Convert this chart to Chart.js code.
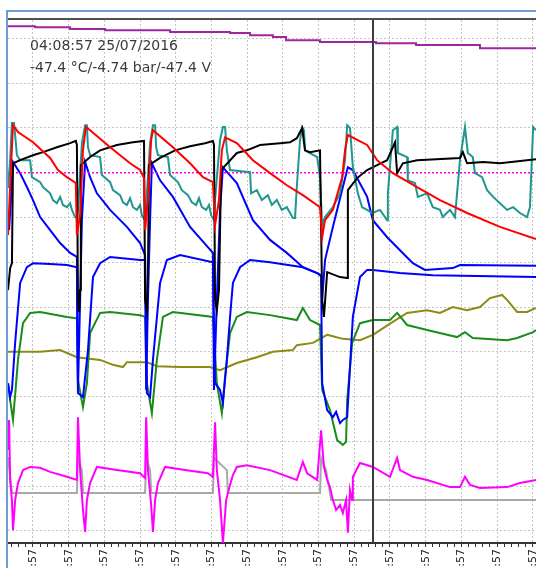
<!DOCTYPE html>
<html>
<head>
<meta charset="utf-8">
<script src="https://cdn.jsdelivr.net/npm/chart.js@4.4.0/dist/chart.umd.min.js"></script>
<style>
  body { margin: 0; background: #fff; }
  canvas { display: block; }
</style>
</head>
<body>
<canvas id="logChart" width="536" height="568"></canvas>
<script>
// readout printed in the top left corner of the plot
var stampText = '04:08:57 25/07/2016';
var readoutText = '-47.4 \u00B0C/-4.74 bar/-47.4 V';
var tickText = ':57';
// cursor position (x, in minutes)
var cursorAt = 9.52;

// x in minutes (one grid per minute), y in grid divisions
var purpleX = [-0.70, 0.06, 1.04, 2.02, 3.84, 5.52, 6.08, 6.72, 7.09, 8.04, 9.61, 10.73, 12.52, 14.09];
var purpleY = [11.27, 11.25, 11.21, 11.18, 11.14, 11.12, 11.07, 11.03, 10.96, 10.92, 10.89, 10.85, 10.78, 10.78];

var redX = [-0.70, -0.62, -0.56, -0.42, 0.00, 0.48, 0.70, 0.95, 1.20, 1.23, 1.32, 1.40, 1.48, 1.60, 2.16, 2.72, 3.00, 3.11, 3.14, 3.22, 3.31, 3.36, 3.92, 4.40, 4.76, 5.04, 5.10, 5.21, 5.29, 5.38, 5.71, 6.16, 6.64, 7.11, 7.56, 8.04, 8.10, 8.18, 8.40, 8.66, 8.74, 8.82, 9.36, 9.64, 10.08, 10.76, 11.40, 12.16, 13.08, 14.09];
var redY = [6.61, 8.06, 9.06, 8.91, 8.68, 8.33, 8.06, 7.90, 7.77, 6.61, 7.05, 8.50, 9.02, 8.95, 8.57, 8.21, 8.06, 7.88, 6.72, 7.39, 8.73, 8.95, 8.57, 8.21, 7.90, 7.79, 6.83, 7.39, 8.50, 8.79, 8.66, 8.28, 7.99, 7.72, 7.50, 7.23, 6.56, 6.94, 7.17, 7.90, 8.50, 8.84, 8.62, 8.28, 7.99, 7.68, 7.39, 7.10, 6.79, 6.52];

var blackX = [-0.70, -0.64, -0.59, -0.56, -0.36, 0.00, 0.28, 0.67, 1.04, 1.20, 1.23, 1.26, 1.29, 1.32, 1.34, 1.60, 1.88, 2.35, 2.80, 3.11, 3.14, 3.19, 3.22, 3.25, 3.56, 3.98, 4.40, 4.82, 5.04, 5.07, 5.10, 5.15, 5.21, 5.27, 5.71, 5.99, 6.36, 6.92, 7.20, 7.39, 7.54, 7.62, 7.76, 8.04, 8.10, 8.15, 8.24, 8.60, 8.80, 8.82, 9.08, 9.36, 9.64, 9.92, 10.14, 10.20, 10.36, 10.76, 11.96, 12.04, 12.16, 12.61, 13.08, 14.09];
var blackY = [5.38, 5.87, 5.98, 8.21, 8.28, 8.39, 8.46, 8.57, 8.66, 8.71, 8.62, 5.16, 4.89, 5.38, 8.17, 8.35, 8.50, 8.62, 8.68, 8.71, 5.16, 4.93, 5.71, 8.17, 8.33, 8.50, 8.59, 8.66, 8.71, 8.62, 5.16, 4.93, 5.38, 8.06, 8.44, 8.50, 8.62, 8.66, 8.68, 8.77, 9.00, 8.50, 8.46, 8.50, 5.16, 4.78, 5.78, 5.67, 5.65, 7.61, 7.88, 8.06, 8.17, 8.28, 8.68, 7.99, 8.21, 8.28, 8.33, 8.46, 8.21, 8.24, 8.21, 8.30];

var tealX = [-0.70, -0.64, -0.59, -0.53, -0.50, -0.45, -0.36, -0.08, -0.03, 0.20, 0.28, 0.48, 0.56, 0.67, 0.76, 0.84, 0.95, 1.04, 1.09, 1.18, 1.23, 1.26, 1.37, 1.46, 1.51, 1.54, 1.60, 1.88, 1.93, 2.16, 2.24, 2.44, 2.52, 2.63, 2.72, 2.80, 2.91, 3.00, 3.05, 3.14, 3.17, 3.28, 3.36, 3.42, 3.45, 3.50, 3.78, 3.84, 4.06, 4.17, 4.34, 4.45, 4.57, 4.65, 4.73, 4.85, 4.93, 4.99, 5.07, 5.10, 5.24, 5.32, 5.38, 5.43, 5.52, 6.08, 6.11, 6.27, 6.41, 6.58, 6.69, 6.83, 6.97, 7.11, 7.28, 7.34, 7.39, 7.48, 7.54, 7.59, 7.62, 7.96, 8.04, 8.10, 8.18, 8.40, 8.60, 8.74, 8.80, 8.88, 8.96, 9.10, 9.22, 9.36, 9.50, 9.72, 9.92, 9.94, 10.08, 10.20, 10.22, 10.48, 10.50, 10.70, 10.78, 11.04, 11.20, 11.40, 11.48, 11.68, 11.82, 11.96, 12.10, 12.18, 12.32, 12.38, 12.58, 12.72, 12.89, 13.08, 13.28, 13.45, 13.64, 13.84, 13.92, 14.01, 14.09];
var tealY = [7.66, 8.28, 9.11, 9.11, 8.84, 8.39, 8.28, 8.28, 7.90, 7.79, 7.68, 7.54, 7.39, 7.32, 7.46, 7.28, 7.23, 7.32, 7.17, 7.01, 6.99, 7.17, 8.66, 9.06, 9.06, 8.57, 8.39, 8.35, 7.95, 7.79, 7.61, 7.50, 7.34, 7.28, 7.43, 7.23, 7.17, 7.28, 7.05, 6.94, 7.28, 8.66, 9.06, 9.06, 8.57, 8.39, 8.35, 7.95, 7.79, 7.61, 7.50, 7.34, 7.28, 7.43, 7.23, 7.17, 7.28, 7.05, 6.94, 7.39, 8.73, 9.02, 9.02, 8.50, 8.06, 8.01, 7.54, 7.61, 7.39, 7.50, 7.28, 7.39, 7.17, 7.23, 6.99, 6.99, 7.68, 8.73, 9.02, 8.95, 8.50, 8.35, 7.90, 6.83, 7.01, 7.23, 7.54, 8.28, 9.06, 9.00, 8.12, 7.54, 7.23, 7.17, 7.10, 7.17, 6.94, 7.54, 8.95, 9.02, 8.44, 8.35, 7.83, 7.77, 7.46, 7.54, 7.23, 7.17, 7.01, 7.17, 7.01, 8.28, 9.02, 8.44, 8.35, 7.99, 7.90, 7.61, 7.46, 7.32, 7.17, 7.23, 7.10, 7.01, 7.23, 9.02, 8.95];

// dotted magenta reference level
var levelX = [-0.70, 14.09];
var levelY = [8.00, 8.00];

var blueAX = [-0.67, -0.62, -0.56, -0.36, -0.17, 0.00, 0.20, 0.48, 0.76, 1.04, 1.23, 1.26, 1.32, 1.37, 1.46, 1.60, 1.79, 2.16, 2.63, 3.00, 3.14, 3.17, 3.22, 3.28, 3.33, 3.56, 3.92, 4.40, 5.04, 5.07, 5.15, 5.24, 5.32, 5.71, 6.16, 6.64, 7.11, 7.56, 7.96, 8.07, 8.10, 8.18, 8.40, 8.68, 8.82, 8.96, 9.36, 9.52, 9.92, 10.28, 10.64, 10.98, 11.76, 11.96, 14.09];
var blueAY = [6.72, 7.39, 8.24, 7.99, 7.68, 7.39, 7.01, 6.72, 6.43, 6.21, 6.12, 3.15, 5.16, 6.94, 8.24, 7.90, 7.54, 7.17, 6.79, 6.43, 6.16, 3.15, 5.16, 6.94, 8.21, 7.83, 7.46, 6.79, 6.21, 3.15, 5.16, 7.17, 8.12, 7.77, 6.94, 6.50, 6.21, 5.89, 5.76, 5.71, 5.16, 6.05, 6.79, 7.68, 8.12, 8.06, 7.46, 6.94, 6.56, 6.27, 5.98, 5.83, 5.87, 5.94, 5.92];

var blueBX = [-0.70, -0.64, -0.59, -0.50, -0.36, -0.17, 0.00, 0.48, 0.95, 1.23, 1.26, 1.40, 1.54, 1.68, 1.88, 2.16, 3.00, 3.14, 3.19, 3.28, 3.36, 3.56, 3.75, 4.12, 5.04, 5.10, 5.24, 5.32, 5.43, 5.52, 5.60, 5.80, 6.08, 6.64, 7.56, 7.96, 8.07, 8.10, 8.24, 8.40, 8.49, 8.60, 8.68, 8.80, 8.88, 8.96, 9.16, 9.36, 9.52, 10.28, 11.20, 14.09];
var blueBY = [3.30, 2.99, 3.15, 4.20, 5.54, 5.89, 5.98, 5.96, 5.94, 5.89, 3.08, 2.99, 4.04, 5.67, 5.98, 6.12, 6.05, 6.05, 3.08, 2.99, 3.82, 5.54, 6.05, 6.16, 6.00, 3.30, 3.15, 2.86, 3.82, 4.78, 5.54, 5.89, 6.05, 6.00, 5.89, 5.76, 5.69, 3.30, 2.70, 2.54, 2.66, 2.41, 2.48, 2.54, 3.66, 4.78, 5.67, 5.83, 5.83, 5.76, 5.71, 5.67];

var greenX = [-0.70, -0.64, -0.56, -0.50, -0.42, -0.28, -0.08, 0.20, 0.95, 1.23, 1.26, 1.40, 1.51, 1.60, 1.88, 2.16, 3.00, 3.14, 3.19, 3.33, 3.47, 3.64, 3.92, 5.04, 5.15, 5.29, 5.38, 5.52, 5.71, 5.99, 6.64, 7.39, 7.56, 7.76, 8.04, 8.10, 8.32, 8.52, 8.68, 8.77, 8.80, 8.94, 9.16, 9.52, 10.00, 10.20, 10.48, 11.04, 11.60, 11.88, 12.10, 12.32, 13.28, 13.56, 14.01, 14.09];
var greenY = [3.30, 2.92, 2.48, 3.04, 3.82, 4.64, 4.87, 4.89, 4.78, 4.75, 3.37, 2.77, 3.30, 4.42, 4.87, 4.89, 4.82, 4.78, 3.30, 2.63, 3.82, 4.78, 4.89, 4.78, 3.30, 2.63, 3.44, 4.42, 4.78, 4.89, 4.82, 4.71, 4.98, 4.71, 4.60, 3.15, 2.70, 2.03, 1.92, 1.99, 2.92, 4.20, 4.64, 4.71, 4.71, 4.87, 4.60, 4.49, 4.38, 4.33, 4.44, 4.31, 4.26, 4.31, 4.44, 4.49];

var oliveX = [-0.70, 0.20, 0.76, 1.23, 1.88, 2.24, 2.52, 2.63, 3.19, 3.47, 4.12, 4.96, 5.24, 5.71, 6.27, 6.72, 7.28, 7.39, 7.84, 8.24, 8.40, 8.68, 9.16, 9.52, 10.08, 10.48, 11.04, 11.40, 11.76, 12.16, 12.52, 12.80, 13.14, 13.28, 13.56, 13.84, 14.09];
var oliveY = [4.00, 4.00, 4.04, 3.88, 3.82, 3.71, 3.66, 3.77, 3.77, 3.68, 3.66, 3.66, 3.59, 3.75, 3.88, 4.00, 4.04, 4.15, 4.20, 4.38, 4.35, 4.29, 4.26, 4.38, 4.67, 4.87, 4.93, 4.87, 5.00, 4.93, 5.00, 5.20, 5.27, 5.16, 4.89, 4.89, 4.98];

var pinkX = [-0.70, -0.67, -0.64, -0.59, -0.56, -0.50, -0.42, -0.28, -0.08, 0.20, 0.48, 0.95, 1.23, 1.26, 1.32, 1.40, 1.46, 1.51, 1.60, 1.79, 2.35, 3.00, 3.14, 3.17, 3.22, 3.31, 3.36, 3.42, 3.50, 3.70, 4.26, 4.90, 5.04, 5.10, 5.15, 5.24, 5.32, 5.41, 5.52, 5.60, 5.71, 5.99, 6.64, 7.39, 7.56, 7.68, 7.96, 8.07, 8.15, 8.24, 8.32, 8.40, 8.49, 8.60, 8.68, 8.77, 8.82, 8.88, 8.94, 8.96, 9.16, 9.52, 10.00, 10.20, 10.28, 10.64, 11.04, 11.68, 11.96, 12.10, 12.24, 12.52, 13.28, 13.64, 14.09];
var pinkY = [1.81, 2.48, 1.14, 0.69, 0.02, 0.69, 1.07, 1.36, 1.43, 1.41, 1.32, 1.21, 1.14, 2.54, 1.36, 0.47, -0.02, 0.69, 1.07, 1.43, 1.36, 1.29, 1.18, 2.54, 1.36, 0.58, -0.02, 0.69, 1.07, 1.43, 1.36, 1.29, 1.21, 2.43, 1.36, 0.69, -0.27, 0.69, 1.03, 1.25, 1.43, 1.47, 1.36, 1.14, 1.54, 1.29, 1.14, 2.25, 1.43, 1.14, 0.98, 0.69, 0.47, 0.58, 0.40, 0.69, -0.04, 0.92, 0.69, 1.21, 1.52, 1.43, 1.21, 1.63, 1.36, 1.21, 1.14, 0.98, 0.98, 1.21, 1.03, 0.96, 0.98, 1.07, 1.14];

var grayX = [-0.70, -0.62, -0.59, 1.23, 1.26, 1.37, 1.40, 3.14, 3.17, 3.28, 3.31, 5.04, 5.07, 5.43, 5.46, 8.04, 8.07, 8.21, 8.35, 14.09];
var grayY = [1.65, 1.07, 0.85, 0.85, 1.63, 1.36, 0.85, 0.85, 1.63, 1.36, 0.85, 0.85, 1.63, 1.36, 0.85, 0.85, 1.63, 1.36, 0.69, 0.69];

function pairs(xs, ys) {
  return xs.map(function (x, i) { return { x: x, y: ys[i] }; });
}

function trace(xs, ys, color, width, more) {
  var ds = {
    data: pairs(xs, ys),
    borderColor: color,
    borderWidth: width,
    showLine: true,
    fill: false,
    tension: 0,
    pointRadius: 0,
    pointHoverRadius: 0
  };
  for (var k in more) ds[k] = more[k];
  return ds;
}

function isMajor(v) {
  return Math.abs(v - Math.round(v)) < 1e-6;
}

// frame, cursor line and the readout text
var decor = {
  id: 'decor',
  beforeDatasetsDraw: function (chart) {
    var c = chart.ctx;
    c.save();
    c.fillStyle = '#3a3a3a';
    c.font = '14px "DejaVu Sans"';
    c.fillText(stampText, 30, 50);
    c.fillText(readoutText, 30, 72);
    c.restore();
  },
  afterDatasetsDraw: function (chart) {
    var c = chart.ctx, a = chart.chartArea;
    var cx = Math.round(chart.scales.x.getPixelForValue(cursorAt));
    c.save();
    c.strokeStyle = '#3c3c3c';
    c.lineWidth = 2;
    c.beginPath();
    c.moveTo(cx, a.top);
    c.lineTo(cx, a.bottom);
    c.stroke();
    c.strokeStyle = '#505050';
    c.beginPath();
    c.moveTo(a.left, a.top - 1);
    c.lineTo(a.right, a.top - 1);
    c.stroke();
    c.strokeStyle = '#6f9bd3';
    c.beginPath();
    c.moveTo(a.left - 1, 11);
    c.lineTo(a.left - 1, chart.height);
    c.moveTo(a.left - 2, 11);
    c.lineTo(chart.width, 11);
    c.stroke();
    c.restore();
  }
};

new Chart(document.getElementById('logChart'), {
  type: 'scatter',
  data: {
    datasets: [
      trace(purpleX, purpleY, '#9c27a0', 2, { stepped: 'before' }),
      trace(redX, redY, '#ff0000', 2),
      trace(blackX, blackY, '#000000', 2),
      trace(tealX, tealY, '#1f9690', 2),
      trace(levelX, levelY, '#ff00ff', 1.5, { borderDash: [2, 2] }),
      trace(blueAX, blueAY, '#0000ff', 2),
      trace(blueBX, blueBY, '#0000ff', 2),
      trace(greenX, greenY, '#1a8c1a', 2),
      trace(oliveX, oliveY, '#8c8c14', 2),
      trace(pinkX, pinkY, '#ff00ff', 2),
      trace(grayX, grayY, '#a8a8a8', 2)
    ]
  },
  plugins: [decor],
  options: {
    responsive: false,
    animation: false,
    events: [],
    layout: { padding: { left: 8, top: 20, right: 0, bottom: 0 } },
    plugins: {
      legend: { display: false },
      tooltip: { enabled: false }
    },
    scales: {
      x: {
        type: 'linear',
        min: -0.7,
        max: 14.09,
        afterFit: function (s) { s.height = 25; s.paddingLeft = 0; s.paddingRight = 0; },
        grid: {
          color: function (ctx) { return ctx.tick && isMajor(ctx.tick.value) ? '#c4c4c4' : 'rgba(0,0,0,0)'; },
          lineWidth: 1,
          tickColor: '#333333',
          tickLength: 4
        },
        border: { color: '#333333', width: 2, dash: [2, 2] },
        ticks: {
          stepSize: 0.2,
          includeBounds: false,
          autoSkip: false,
          minRotation: 90,
          maxRotation: 90,
          padding: 2,
          color: '#222222',
          font: { family: 'DejaVu Sans', size: 11 },
          callback: function (v) { return isMajor(v) ? tickText : ''; }
        }
      },
      y: {
        type: 'linear',
        min: -0.268,
        max: 11.41,
        afterFit: function (s) { s.width = 0; s.paddingTop = 0; s.paddingBottom = 0; },
        grid: { color: '#c4c4c4', lineWidth: 1, drawTicks: false },
        border: { display: false, dash: [2, 2] },
        ticks: { display: false, stepSize: 1, includeBounds: false }
      }
    }
  }
});
</script>
</body>
</html>
